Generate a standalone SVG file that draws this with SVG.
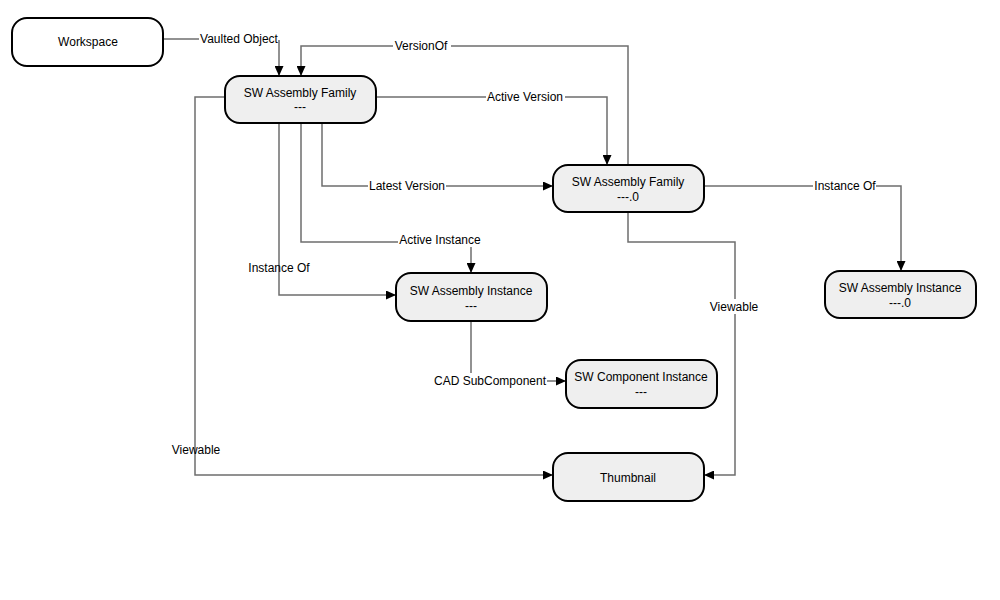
<svg xmlns="http://www.w3.org/2000/svg" width="1000" height="600" viewBox="0 0 1000 600">
<style>
.node rect{fill:#efefef;stroke:#000;stroke-width:2}
.node text{font-family:"Liberation Sans",Arial,sans-serif;font-size:12px;fill:#000;text-anchor:middle}
#connectors path{fill:none;stroke:#6e6e6e;stroke-width:1.5}
#connectors text{font-family:"Liberation Sans",Arial,sans-serif;font-size:12px;fill:#000;text-anchor:middle}
</style>
<defs>
<marker id="arr" markerUnits="userSpaceOnUse" markerWidth="11" markerHeight="9" refX="10" refY="4.5" orient="auto">
<path d="M0,0 L10,4.5 L0,9 z" fill="#000"/>
</marker>
</defs>
<rect width="1000" height="600" fill="#fff"/>
<g id="connectors">
<path d="M163,39 H199"/>
<path d="M279,40 V76" marker-end="url(#arr)"/>
<text x="239" y="43">Vaulted Object</text>
<path d="M628,165 V46 H451"/>
<path d="M393,46 H301 V76" marker-end="url(#arr)"/>
<text x="421" y="50">VersionOf</text>
<path d="M376,97 H486"/>
<path d="M565,97 H607 V165" marker-end="url(#arr)"/>
<text x="525" y="101">Active Version</text>
<path d="M322,123 V186 H368"/>
<path d="M446,186 H553" marker-end="url(#arr)"/>
<text x="407" y="190">Latest Version</text>
<path d="M301,123 V242 H398"/>
<path d="M471,247 V273" marker-end="url(#arr)"/>
<text x="440" y="244">Active Instance</text>
<path d="M279,123 V295 H396" marker-end="url(#arr)"/>
<text x="279" y="272">Instance Of</text>
<path d="M225,97 H195 V475 H553" marker-end="url(#arr)"/>
<text x="196" y="454">Viewable</text>
<path d="M628,212 V242 H735 V299"/>
<path d="M735,314 V475 H704" marker-end="url(#arr)"/>
<text x="734" y="311">Viewable</text>
<path d="M704,186 H813"/>
<path d="M876,186 H901 V271" marker-end="url(#arr)"/>
<text x="845" y="190">Instance Of</text>
<path d="M471,321 V373"/>
<path d="M547,381 H566" marker-end="url(#arr)"/>
<text x="490" y="385">CAD SubComponent</text>
</g>
<g id="workspace" class="node"><rect x="12" y="18" width="151" height="48" rx="15" style="fill:#fff"/><text x="88" y="46">Workspace</text></g>
<g id="asm-family" class="node"><rect x="225" y="76" width="151" height="47" rx="15"/><text x="300" y="97">SW Assembly Family</text><text x="300" y="111">---</text></g>
<g id="asm-family-0" class="node"><rect x="553" y="165" width="151" height="47" rx="15"/><text x="628" y="186">SW Assembly Family</text><text x="628" y="201">---.0</text></g>
<g id="asm-instance-0" class="node"><rect x="825" y="271" width="151" height="47" rx="15"/><text x="900" y="292">SW Assembly Instance</text><text x="900" y="307">---.0</text></g>
<g id="asm-instance" class="node"><rect x="396" y="273" width="151" height="48" rx="15"/><text x="471" y="295">SW Assembly Instance</text><text x="471" y="310">---</text></g>
<g id="comp-instance" class="node"><rect x="566" y="360" width="151" height="48" rx="15"/><text x="641" y="381">SW Component Instance</text><text x="641" y="396">---</text></g>
<g id="thumbnail" class="node"><rect x="553" y="453" width="151" height="48" rx="15"/><text x="628" y="482">Thumbnail</text></g>
</svg>
